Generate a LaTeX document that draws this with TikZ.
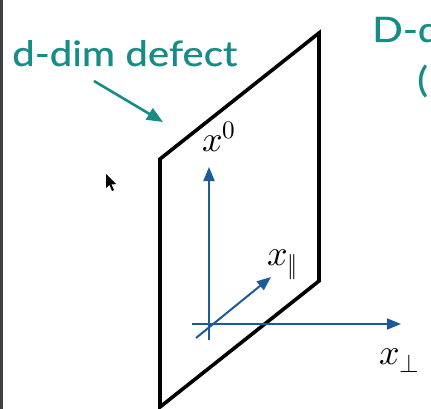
\documentclass[tikz,border=0pt]{standalone}
\usepackage{fontspec}
\setmainfont{Lato}[FakeStretch=1.15, FakeBold=0.6]
\usepackage{unicode-math}
\setmathfont{Latin Modern Math}
\usetikzlibrary{arrows.meta}
\definecolor{tealc}{HTML}{168C86}
\definecolor{axblue}{HTML}{1C5A98}
\tikzset{
  plane/.style={draw=black, line width=3.6pt, line join=miter},
  axis/.style={draw=axblue, line width=2pt, -{Triangle[length=14pt,width=11pt]}},
  lbl/.style={font=\fontsize{35}{40}\selectfont, text=tealc, inner sep=0pt},
  mlbl/.style={font=\fontsize{36}{40}\selectfont, inner sep=0pt},
}
\begin{document}
\begin{tikzpicture}[x=1pt,y=-1pt]
\useasboundingbox (0,0) rectangle (431,409);
\clip (0,0) rectangle (431,409);
\fill[white] (0,0) rectangle (431,409);
% left border
\draw[draw=black!75, line width=2.5pt] (1.5,0) -- (1.5,409);
% texts
\node[lbl, anchor=base west] (defect) at (12,66) {d-dim defect};
\node[lbl, anchor=base west] (bulk) at (372,42) {D-dim};
\node[lbl, anchor=base west] (paren) at (417,92) {(};
% plane
\coordinate (p1) at (160,159);
\coordinate (p2) at (319,33);
\coordinate (p3) at (319,281);
\coordinate (p4) at (160,407);
\draw[plane] (p4) -- (p1) -- (p2) -- (p3) -- (p4) -- cycle;
% teal arrow
\coordinate (ta) at (94,81);
\coordinate (tb) at (163,122);
\draw[draw=tealc, line width=2.6pt, -{Triangle[length=16pt,width=13pt]}] (ta) -- (tb);
% axes
\coordinate (v0) at (209,340);
\coordinate (v1) at (209,167);
\coordinate (h0) at (192,324);
\coordinate (h1) at (401,324);
\coordinate (d0) at (196,338);
\coordinate (d1) at (271,277);
\draw[axis] (v0) -- (v1);
\draw[axis] (h0) -- (h1);
\draw[axis] (d0) -- (d1);
% labels
\node[mlbl, anchor=base west] (lx0) at (202,152) {$x^0$};
\node[mlbl, anchor=base west] (lxp) at (267,265) {$x_{\|}$};
\node[mlbl, anchor=base west] (lxo) at (379,364) {$x_{\perp}$};
% cursor
\fill[black] (106,174) -- (106,188) -- (109.5,185) -- (112,191) -- (114,190) -- (111.5,184.5) -- (116,184) -- cycle;
\end{tikzpicture}
\end{document}
